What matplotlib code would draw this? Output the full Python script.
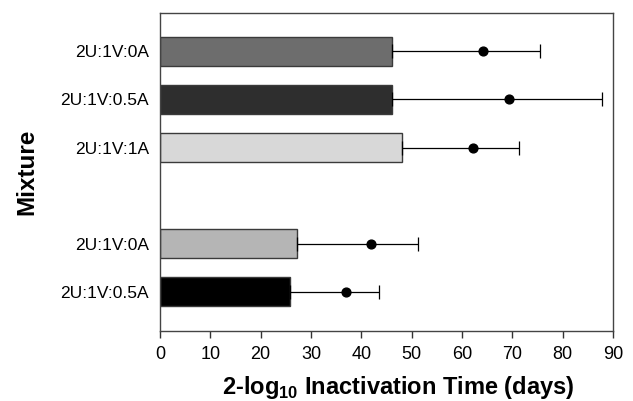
import matplotlib.pyplot as plt
import numpy as np

plt.rcParams['font.family'] = ['Liberation Sans', 'DejaVu Sans']

mixtures = ["2U:1V:0A", "2U:1V:0.5A", "2U:1V:1A", "2U:1V:0A", "2U:1V:0.5A"]
slots = [0, 1, 2, 4, 5]
bar_values = [46.0, 46.1, 48.1, 27.2, 25.8]
dot_values = [64.1, 69.4, 62.2, 41.9, 37.0]
upper_values = [75.5, 87.8, 71.4, 51.3, 43.5]
bar_colors = ["#6d6d6d", "#2e2e2e", "#d8d8d8", "#b5b5b5", "#000000"]

fig = plt.figure(figsize=(6.33, 4.01), dpi=100)
ax = fig.add_axes([160 / 633, 1 - 331 / 401, 453 / 633, 318 / 401])

ax.barh(slots, bar_values, height=0.6, color=bar_colors,
        edgecolor="#3a3a3a", linewidth=1.0, zorder=2)

bars = np.array(bar_values)
upper = np.array(upper_values)
ax.errorbar(bars, slots, xerr=[np.zeros_like(bars), upper - bars],
            fmt="none", ecolor="black", elinewidth=0.9, capsize=5,
            capthick=0.9, zorder=3)
ax.scatter(dot_values, slots, s=40, color="black", zorder=4)

ax.set_xlim(0, 90)
ax.set_ylim(5.82, -0.8)
ax.set_xticks(range(0, 91, 10))
ax.set_yticks(slots)
ax.set_yticklabels(mixtures)
ax.tick_params(axis="x", labelsize=13, length=5, width=1, color="#333333",
               direction="out", pad=6)
ax.tick_params(axis="y", labelsize=12.5, length=0, pad=8)

for s in ax.spines.values():
    s.set_color("#444444")
    s.set_linewidth(1.0)

ax.set_xlabel(r"2-log$_{\mathregular{10}}$ Inactivation Time (days)",
              fontsize=17, fontweight="bold", labelpad=8)
ax.xaxis.label.set_x(0.525)
ax.set_ylabel("Mixture", fontsize=17.5, fontweight="bold")
ax.yaxis.set_label_coords(-122 / 453, 0.5)

fig.savefig("out.png", dpi=100)
